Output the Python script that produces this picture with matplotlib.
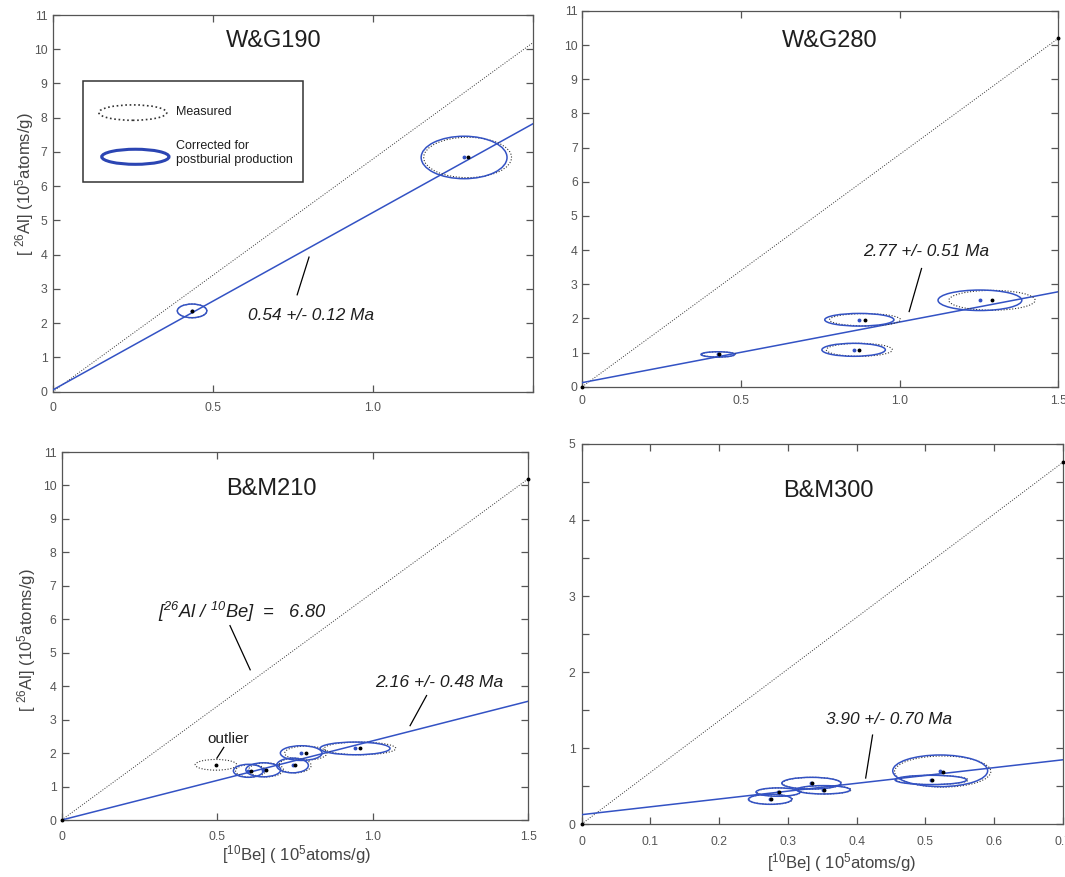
import matplotlib
matplotlib.use('Agg')
import matplotlib.pyplot as plt
from matplotlib.patches import Ellipse, Rectangle

plt.rcParams['font.family'] = ['Liberation Sans', 'DejaVu Sans']
plt.rcParams['mathtext.default'] = 'regular'

# ---------------- data ----------------
# W&G190
wg190_meas_x = [0.435, 1.295]
wg190_meas_y = [2.36, 6.84]
wg190_meas_ex = [0.046, 0.137]
wg190_meas_ey = [0.20, 0.59]
wg190_corr_x = [0.435, 1.284]
wg190_corr_y = [2.36, 6.84]
wg190_corr_ex = [0.046, 0.134]
wg190_corr_ey = [0.20, 0.62]
wg190_fit_x = [0.0, 1.5]
wg190_fit_y = [0.05, 7.83]
wg190_label = "0.54 +/- 0.12 Ma"

# W&G280
wg280_meas_x = [0.430, 0.891, 0.873, 1.291]
wg280_meas_y = [0.945, 1.96, 1.08, 2.53]
wg280_meas_ex = [0.053, 0.112, 0.104, 0.136]
wg280_meas_ey = [0.078, 0.180, 0.190, 0.290]
wg280_corr_x = [0.427, 0.873, 0.855, 1.253]
wg280_corr_y = [0.945, 1.96, 1.08, 2.53]
wg280_corr_ex = [0.053, 0.109, 0.100, 0.132]
wg280_corr_ey = [0.078, 0.185, 0.190, 0.300]
wg280_fit_x = [0.0, 1.5]
wg280_fit_y = [0.12, 2.78]
wg280_label = "2.77 +/- 0.51 Ma"

# B&M210
bm210_meas_x = [0.496, 0.607, 0.657, 0.750, 0.785, 0.959]
bm210_meas_y = [1.65, 1.47, 1.50, 1.63, 2.00, 2.14]
bm210_meas_ex = [0.067, 0.048, 0.056, 0.052, 0.068, 0.115]
bm210_meas_ey = [0.16, 0.19, 0.21, 0.22, 0.21, 0.19]
bm210_corr_x = [0.600, 0.648, 0.742, 0.770, 0.943]
bm210_corr_y = [1.47, 1.50, 1.63, 2.00, 2.14]
bm210_corr_ex = [0.048, 0.056, 0.051, 0.067, 0.1125]
bm210_corr_ey = [0.194, 0.21, 0.22, 0.22, 0.19]
bm210_fit_x = [0.0, 1.5]
bm210_fit_y = [0.0, 3.55]
bm210_label = "2.16 +/- 0.48 Ma"

# B&M300
bm300_meas_x = [0.275, 0.287, 0.335, 0.353, 0.525, 0.510]
bm300_meas_y = [0.325, 0.42, 0.537, 0.45, 0.69, 0.58]
bm300_meas_ex = [0.0315, 0.032, 0.043, 0.039, 0.070, 0.052]
bm300_meas_ey = [0.066, 0.055, 0.077, 0.055, 0.205, 0.061]
bm300_corr_x = [0.274, 0.2855, 0.334, 0.3515, 0.5214, 0.5078]
bm300_corr_y = [0.325, 0.42, 0.537, 0.45, 0.70, 0.58]
bm300_corr_ex = [0.0315, 0.032, 0.043, 0.039, 0.069, 0.052]
bm300_corr_ey = [0.066, 0.055, 0.077, 0.055, 0.208, 0.061]
bm300_fit_x = [0.0, 0.7]
bm300_fit_y = [0.123, 0.845]
bm300_label = "3.90 +/- 0.70 Ma"

# production ratio 26Al/10Be = 6.80
ratio_value = 6.80
ratio_x_long = [0.0, 1.5]
ratio_x_short = [0.0, 0.7]

titles = ["W&G190", "W&G280", "B&M210", "B&M300"]
ticks_x_long = [0, 0.5, 1.0, 1.5]
ticks_x_long_labels_a = ["0", "0.5", "1.0", ""]
ticks_x_long_labels_b = ["0", "0.5", "1.0", "1.5"]
ticks_x_short = [0, 0.1, 0.2, 0.3, 0.4, 0.5, 0.6, 0.7]
ticks_x_short_labels = ["0", "0.1", "0.2", "0.3", "0.4", "0.5", "0.6", "0.7"]
ticks_y_long = list(range(0, 12))
ticks_y_long_labels = [str(v) for v in ticks_y_long]
ticks_y_short = [0, 0.5, 1, 1.5, 2, 2.5, 3, 3.5, 4, 4.5, 5]
ticks_y_short_labels = ["0", "", "1", "", "2", "", "3", "", "4", "", "5"]

ylabel_text = "[ $^{26}$Al] (10$^{5}$atoms/g)"
xlabel_text = "[$^{10}$Be] ( 10$^{5}$atoms/g)"

# ---------------- styling ----------------
BLUE = '#3352c4'
BLUE_DARK = '#2b45b3'
GREY = '#555555'
TXT = '#1e1e1e'
DOTTED = (0, (1, 1.6))
DOT_MS = 1.8

fig = plt.figure(figsize=(10.65, 8.77), dpi=100)


def make_ax(rect, xlim, ylim, xt, xtl, yt, ytl, xpad, ypad):
    ax = fig.add_axes(rect)
    ax.set_xlim(*xlim)
    ax.set_ylim(*ylim)
    ax.set_xticks(xt)
    ax.set_xticklabels(xtl)
    ax.set_yticks(yt)
    ax.set_yticklabels(ytl)
    ax.tick_params(direction='in', top=True, right=True, length=5, width=0.9,
                   colors=GREY, labelsize=8.8)
    ax.tick_params(axis='x', pad=xpad)
    ax.tick_params(axis='y', pad=ypad)
    for s in ax.spines.values():
        s.set_color(GREY)
        s.set_linewidth(0.9)
    return ax


def draw_panel(ax, mx, my, mex, mey, cx, cy, cex, cey, fx, fy, rx, end_dots=True):
    ry = [v * ratio_value for v in rx]
    ax.plot(rx, ry, color='#333333', lw=0.7, ls=DOTTED, zorder=2)
    if end_dots:
        ax.plot(rx, ry, 'o', color='black', ms=DOT_MS, clip_on=False, zorder=6)
    ax.plot(fx, fy, color=BLUE, lw=1.1, zorder=3)
    for x, y, ex, ey in zip(mx, my, mex, mey):
        ax.add_patch(Ellipse((x, y), 2 * ex, 2 * ey, fill=False, ec='#333333',
                             lw=0.8, ls=DOTTED, zorder=4))
    for x, y, ex, ey in zip(cx, cy, cex, cey):
        ax.add_patch(Ellipse((x, y), 2 * ex, 2 * ey, fill=False, ec=BLUE,
                             lw=1.1, zorder=5))
    ax.plot(cx, cy, 'o', color=BLUE, ms=DOT_MS, zorder=6)
    ax.plot(mx, my, 'o', color='black', ms=DOT_MS, zorder=7)


# ---- W&G190 ----
ax1 = make_ax([0.04948, 0.55336, 0.45127, 0.42953], (0, 1.5), (0, 11),
              ticks_x_long, ticks_x_long_labels_a, ticks_y_long, ticks_y_long_labels, 7.5, 3.8)
draw_panel(ax1, wg190_meas_x, wg190_meas_y, wg190_meas_ex, wg190_meas_ey,
           wg190_corr_x, wg190_corr_y, wg190_corr_ex, wg190_corr_ey,
           wg190_fit_x, wg190_fit_y, ratio_x_long, end_dots=False)
ax1.text(0.69, 10.25, titles[0], fontsize=17, ha='center', va='center', color=TXT)
ax1.text(0.61, 2.23, wg190_label, fontsize=12.4, style='italic', ha='left', va='center', color=TXT)
ax1.plot([0.80, 0.763], [3.93, 2.83], color='black', lw=0.9, zorder=6)
# legend box
ax1.add_patch(Rectangle((0.0946, 6.12), 0.6874, 2.95, fill=False, ec='#333333', lw=1.1, zorder=8))
ax1.add_patch(Ellipse((0.250, 8.15), 0.212, 0.45, fill=False, ec='#333333', lw=1.2, ls=DOTTED, zorder=8))
ax1.add_patch(Ellipse((0.258, 6.86), 0.210, 0.44, fill=False, ec=BLUE_DARK, lw=2.2, zorder=8))
ax1.text(0.385, 8.18, "Measured", fontsize=9, ha='left', va='center', color=TXT)
ax1.text(0.385, 6.97, "Corrected for\npostburial production", fontsize=9, ha='left',
         va='center', color=TXT, linespacing=1.15)

# ---- W&G280 ----
ax2 = make_ax([0.54676, 0.55907, 0.44695, 0.42839], (0, 1.5), (0, 11),
              ticks_x_long, ticks_x_long_labels_b, ticks_y_long, ticks_y_long_labels, 6, 3.3)
draw_panel(ax2, wg280_meas_x, wg280_meas_y, wg280_meas_ex, wg280_meas_ey,
           wg280_corr_x, wg280_corr_y, wg280_corr_ex, wg280_corr_ey,
           wg280_fit_x, wg280_fit_y, ratio_x_long)
ax2.text(0.78, 10.13, titles[1], fontsize=17, ha='center', va='center', color=TXT)
ax2.text(0.885, 3.95, wg280_label, fontsize=12.4, style='italic', ha='left', va='center', color=TXT)
ax2.plot([1.069, 1.03], [3.46, 2.2], color='black', lw=0.9, zorder=6)

# ---- B&M210 ----
ax3 = make_ax([0.05793, 0.06499, 0.43812, 0.41961], (0, 1.5), (0, 11),
              ticks_x_long, ticks_x_long_labels_b, ticks_y_long, ticks_y_long_labels, 7.7, 3.8)
draw_panel(ax3, bm210_meas_x, bm210_meas_y, bm210_meas_ex, bm210_meas_ey,
           bm210_corr_x, bm210_corr_y, bm210_corr_ex, bm210_corr_ey,
           bm210_fit_x, bm210_fit_y, ratio_x_long)
ax3.text(0.674, 9.9, titles[2], fontsize=17, ha='center', va='center', color=TXT)
ax3.text(1.009, 4.12, bm210_label, fontsize=12.6, style='italic', ha='left', va='center', color=TXT)
ax3.plot([1.173, 1.12], [3.72, 2.82], color='black', lw=0.9, zorder=6)
ax3.text(0.31, 6.21, "[$^{26}$Al / $^{10}$Be]  =   6.80", fontsize=13.2, style='italic',
         ha='left', va='center', color=TXT)
ax3.plot([0.541, 0.606], [5.81, 4.49], color='black', lw=0.9, zorder=6)
ax3.text(0.535, 2.42, "outlier", fontsize=11, ha='center', va='center', color=TXT)
ax3.plot([0.521, 0.499], [2.17, 1.85], color='black', lw=0.9, zorder=6)

# ---- B&M300 ----
ax4 = make_ax([0.54620, 0.06043, 0.45192, 0.43330], (0, 0.7), (0, 5),
              ticks_x_short, ticks_x_short_labels, ticks_y_short, ticks_y_short_labels, 8.6, 4.5)
draw_panel(ax4, bm300_meas_x, bm300_meas_y, bm300_meas_ex, bm300_meas_ey,
           bm300_corr_x, bm300_corr_y, bm300_corr_ex, bm300_corr_ey,
           bm300_fit_x, bm300_fit_y, ratio_x_short)
ax4.text(0.359, 4.38, titles[3], fontsize=17, ha='center', va='center', color=TXT)
ax4.text(0.355, 1.38, bm300_label, fontsize=12.4, style='italic', ha='left', va='center', color=TXT)
ax4.plot([0.423, 0.413], [1.17, 0.605], color='black', lw=0.9, zorder=6)

# axis labels
fig.text(25 / 1065, 1 - 184.5 / 877, ylabel_text, rotation=90, fontsize=12,
         ha='center', va='center', color='#444444')
fig.text(27 / 1065, 1 - 640.7 / 877, ylabel_text, rotation=90, fontsize=12,
         ha='center', va='center', color='#444444')
fig.text(296.7 / 1065, 1 - 855 / 877, xlabel_text, fontsize=12,
         ha='center', va='center', color='#444444')
fig.text(841.7 / 1065, 1 - 863 / 877, xlabel_text, fontsize=12,
         ha='center', va='center', color='#444444')

fig.savefig('out.png', dpi=100)
